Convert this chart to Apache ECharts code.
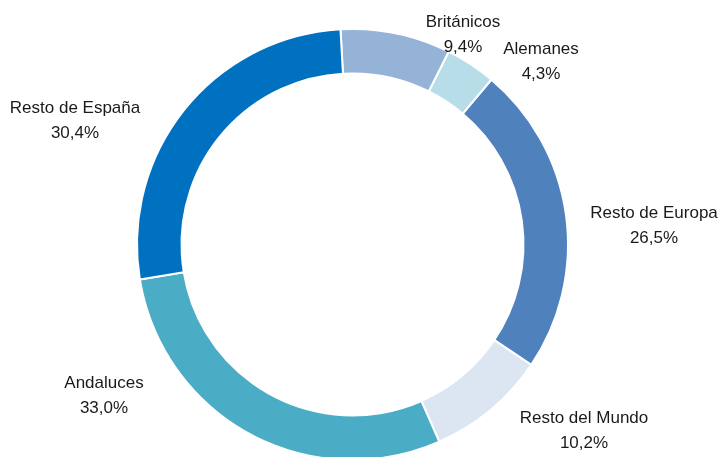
<!DOCTYPE html>
<html>
<head>
<meta charset="utf-8">
<script src="https://cdn.jsdelivr.net/npm/echarts@6/dist/echarts.min.js"></script>
<style>
  html, body { margin: 0; padding: 0; background: #fff; }
  #chart { width: 719px; height: 457px; }
</style>
</head>
<body>
<div id="chart"></div>
<script>
// datos
var categorias = ['Británicos', 'Alemanes', 'Resto de Europa', 'Resto del Mundo', 'Andaluces', 'Resto de España'];
var valores = [9.4, 4.3, 26.5, 10.2, 33.0, 30.4];
var colores = ['#95B3D7', '#B7DEE8', '#4F81BD', '#DCE6F2', '#4BACC6', '#0070C0'];

// posiciones de las etiquetas (centro del bloque de texto)
var posEtiquetas = [[463, 35], [541, 62], [654, 226], [584, 431], [104, 396], [75, 121]];

var chart = echarts.init(document.getElementById('chart'));

var datos = categorias.map(function (c, i) {
  return { name: c, value: valores[i], itemStyle: { color: colores[i] } };
});

option = {
  animation: false,
  series: [
    {
      type: 'pie',
      center: [352.5, 244.5],
      radius: [171, 215.5],
      startAngle: 93.2,
      clockwise: true,
      itemStyle: { borderColor: '#fff', borderWidth: 2 },
      label: {
        show: true,
        position: 'outside',
        color: '#1a1a1a',
        fontFamily: 'Liberation Sans',
        fontSize: 17,
        lineHeight: 25,
        align: 'center',
        overflow: 'none',
        edgeDistance: 0,
        formatter: function (p) {
          return p.name + '\n' + p.value.toFixed(1).replace('.', ',') + '%';
        }
      },
      labelLine: { show: false },
      labelLayout: function (p) {
        var pos = posEtiquetas[p.dataIndex];
        return { x: pos[0], y: pos[1], align: 'center', verticalAlign: 'middle', hideOverlap: false };
      },
      data: datos
    }
  ]
};

chart.setOption(option);

window.addEventListener('resize', function () {
  chart.resize();
});
</script>
</body>
</html>
